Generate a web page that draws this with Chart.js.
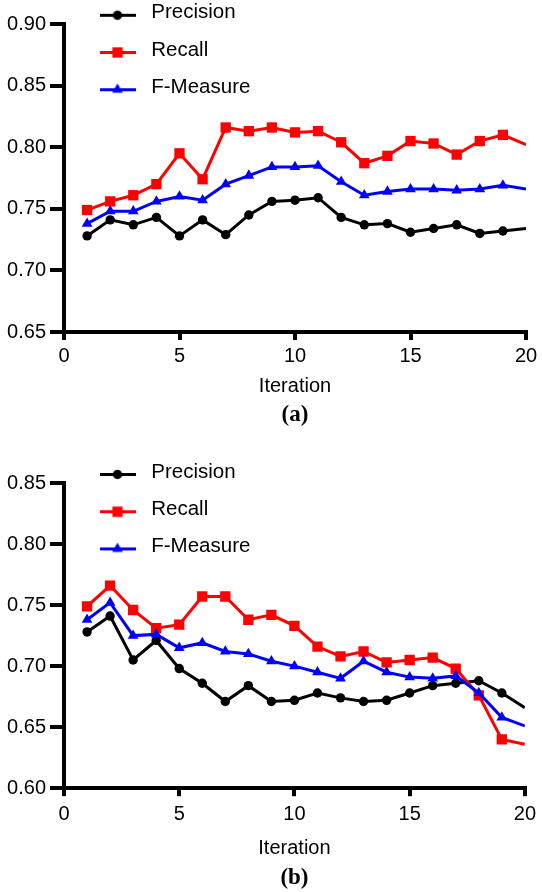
<!DOCTYPE html>
<html><head><meta charset="utf-8">
<script src="https://cdn.jsdelivr.net/npm/chart.js@4"></script>
<style>
html,body{margin:0;padding:0;background:#fff;width:542px;height:892px;overflow:hidden}
#wa{position:absolute;left:0;top:0;width:542px;height:430px}
#wb{position:absolute;left:0;top:430px;width:542px;height:462px}
canvas{display:block}
</style></head><body>
<div id="wa"><canvas id="ca" width="542" height="430"></canvas></div>
<div id="wb"><canvas id="cb" width="542" height="462"></canvas></div>
<script>
// ---- data ----
const iterations = [1,2,3,4,5,6,7,8,9,10,11,12,13,14,15,16,17,18,19,20];
const seriesNames = ['Precision','Recall','F-Measure'];

const precisionA = [0.728,0.741,0.737,0.743,0.728,0.741,0.729,0.745,0.756,0.757,0.759,0.743,0.737,0.738,0.731,0.734,0.737,0.730,0.732,0.734];
const recallA    = [0.749,0.756,0.761,0.770,0.795,0.774,0.816,0.813,0.816,0.812,0.813,0.804,0.787,0.793,0.805,0.803,0.794,0.805,0.810,0.802];
const fmeasureA  = [0.738,0.748,0.748,0.756,0.760,0.757,0.770,0.777,0.784,0.784,0.785,0.772,0.761,0.764,0.766,0.766,0.765,0.766,0.769,0.766];

const precisionB = [0.728,0.741,0.705,0.721,0.698,0.686,0.671,0.684,0.671,0.672,0.678,0.674,0.671,0.672,0.678,0.684,0.686,0.688,0.678,0.666];
const recallB    = [0.749,0.766,0.746,0.731,0.734,0.757,0.757,0.738,0.742,0.733,0.716,0.708,0.712,0.703,0.705,0.707,0.698,0.676,0.640,0.636];
const fmeasureB  = [0.738,0.752,0.725,0.726,0.715,0.719,0.712,0.710,0.704,0.700,0.695,0.690,0.704,0.695,0.691,0.690,0.692,0.678,0.658,0.651];

const xTicks  = [0,5,10,15,20];
const yTicksA = [0.65,0.70,0.75,0.80,0.85,0.90];
const yTicksB = [0.60,0.65,0.70,0.75,0.80,0.85];
const panelLabels = ['(a)','(b)'];

// ---- styles ----
const colors = ['#000000','#ff0000','#0000ff'];
const pStyles = ['circle','rect','triangle'];
const pRadii = [4.7,7.3,6.2];

Chart.defaults.font.family = "'Liberation Sans', Arial, sans-serif";
Chart.defaults.font.size = 20;
Chart.defaults.color = '#000';

function legendImage(i){
  const c = document.createElement('canvas');
  c.width = 36; c.height = 20;
  const g = c.getContext('2d');
  const cy = 12.5, cx = 18;
  g.strokeStyle = colors[i]; g.fillStyle = colors[i]; g.lineWidth = 3;
  g.beginPath(); g.moveTo(0,cy); g.lineTo(36,cy); g.stroke();
  g.beginPath();
  const r = pRadii[i];
  if (pStyles[i]==='circle'){ g.arc(cx,cy,r,0,Math.PI*2); }
  else if (pStyles[i]==='rect'){ const s=r*Math.SQRT1_2; g.rect(cx-s,cy-s,2*s,2*s); }
  else { g.moveTo(cx,cy-r); g.lineTo(cx+Math.sin(2*Math.PI/3)*r,cy-Math.cos(2*Math.PI/3)*r); g.lineTo(cx+Math.sin(4*Math.PI/3)*r,cy-Math.cos(4*Math.PI/3)*r); g.closePath(); }
  g.fill();
  return c;
}
const legendImgs = [0,1,2].map(legendImage);

const legendPlace = {
  id:'legendPlace',
  afterLayout(chart, args, opts){
    const l = chart.legend; if(!l) return;
    const pad = l.options.labels.padding;
    const fs = l.options.labels.font.size || 20;
    const w = l.width, h = l.height;
    l.left = opts.x - pad; l.right = l.left + w;
    l.top = opts.y - pad - fs/2; l.bottom = l.top + h;
  }
};

function makeChart(id, series, yTicks, panel, geo){
  const ds = series.map((arr,i)=>({
    label: seriesNames[i],
    data: iterations.map((x,k)=>({x:x, y:arr[k]})),
    borderColor: colors[i],
    backgroundColor: colors[i],
    borderWidth: 3,
    tension: 0,
    pointStyle: pStyles[i],
    pointRadius: (c)=> c.dataIndex === iterations.length-1 ? 0 : pRadii[i],
    pointBackgroundColor: colors[i],
    pointBorderColor: colors[i],
    pointBorderWidth: 0,
    order: 2-i
  }));
  return new Chart(document.getElementById(id), {
    type:'line',
    data:{datasets: ds},
    plugins:[legendPlace],
    options:{
      responsive:false,
      animation:false,
      events:[],
      layout:{padding:{left:0,right:16,top:geo.top,bottom:geo.pb}},
      scales:{
        x:{
          type:'linear', min:0, max:20,
          afterBuildTicks:(s)=>{ s.ticks = xTicks.map(v=>({value:v})); },
          afterFit:(s)=>{ s.height = geo.xh; },
          ticks:{ callback:(v)=>String(v), padding:geo.xpad, font:{size:20}, maxRotation:0, autoSkip:false },
          grid:{ drawOnChartArea:false, drawTicks:true, tickLength:8, color:'#000', lineWidth:4 },
          border:{ display:true, color:'#000', width:4 },
          title:{ display:true, text:'Iteration', font:{size:20}, padding:{top:0,bottom:0} }
        },
        y:{
          type:'linear', min:yTicks[0], max:yTicks[yTicks.length-1],
          afterBuildTicks:(s)=>{ s.ticks = yTicks.map(v=>({value:v})); },
          afterFit:(s)=>{ s.width = 64; },
          ticks:{ callback:(v)=>Number(v).toFixed(2), padding:4, font:{size:20}, autoSkip:false },
          grid:{ drawOnChartArea:false, drawTicks:true, tickLength:14, color:'#000', lineWidth:4 },
          border:{ display:true, color:'#000', width:4 }
        }
      },
      plugins:{
        tooltip:{enabled:false},
        legendPlace:{ x:94, y:geo.legY },
        legend:{
          display:true, position:'chartArea', align:'start',
          labels:{
            usePointStyle:true, pointStyleWidth:47, padding:16.7,
            font:{size:20.5}, color:'#000',
            generateLabels:(chart)=> seriesNames.map((n,i)=>({
              text:n, pointStyle:legendImgs[i], rotation:0,
              fillStyle:colors[i], strokeStyle:colors[i], lineWidth:0,
              hidden:false, datasetIndex:i, fontColor:'#000'
            }))
          }
        },
        title:{
          display:true, text:panel, position:'bottom', color:'#000', fullSize:false,
          font:{family:"'Liberation Serif', 'Times New Roman', serif", weight:'bold', size:23},
          padding:{top:geo.tpad, bottom:0}
        }
      }
    }
  });
}

makeChart('ca', [precisionA, recallA, fmeasureA], yTicksA, panelLabels[0],
  {top:24, pb:1.2, xh:66.7, xpad:4, tpad:2.5, legY:12.8});
makeChart('cb', [precisionB, recallB, fmeasureB], yTicksB, panelLabels[1],
  {top:53, pb:0.2, xh:72, xpad:6, tpad:4, legY:42});
</script>
</body></html>
